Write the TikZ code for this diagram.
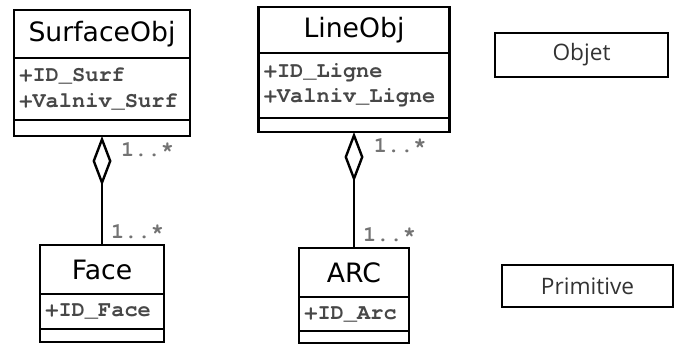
\documentclass[tikz,border=0pt]{standalone}
\usepackage{fontspec}
\setmainfont{DejaVu Sans}
\setmonofont{TeX Gyre Cursor}
\newfontfamily\legendfont{Open Sans}
\usetikzlibrary{arrows.meta}

\tikzset{
  box/.style={draw, line width=2.1pt, inner sep=0pt, outer sep=0pt, anchor=north},
  classtitle/.style={box, font=\fontsize{20}{24}\selectfont},
  attrs/.style={box, text width=#1, inner xsep=4pt, align=left,
    text=black!72, font=\fontsize{16.5}{19}\ttfamily\bfseries},
  agg/.style={line width=1.8pt, -{Diamond[open, length=37.5pt, width=14.25pt]}},
  mult/.style={inner sep=0pt, text=black!55, font=\fontsize{16.5}{19}\ttfamily\bfseries},
  legend/.style={draw, line width=2.1pt, text=black!80, font=\legendfont\fontsize{17}{20}\selectfont}
}

\begin{document}
\begin{tikzpicture}[x=0.75pt, y=-0.75pt]
    \useasboundingbox (0,0) rectangle (680,346);
    % SurfaceObj
    \node[classtitle, minimum width=132pt, minimum height=36pt] (surf) at (102,10) {SurfaceObj};
    \node[attrs=124pt, minimum height=46.5pt] (surfattr) at (surf.south) {+ID\_Surf\\+Valniv\_Surf};
    \node[box, minimum width=132pt, minimum height=12pt] (surfops) at (surfattr.south) {};
    % LineObj
    \node[classtitle, minimum width=143.25pt, minimum height=34.5pt] (line) at (354,7) {LineObj};
    \node[attrs=135.25pt, minimum height=48.75pt] (lineattr) at (line.south) {+ID\_Ligne\\+Valniv\_Ligne};
    \node[box, minimum width=143.25pt, minimum height=10.5pt] (lineops) at (lineattr.south) {};
    % Face
    \node[classtitle, minimum width=93pt, minimum height=36.75pt] (face) at (102,245) {Face};
    \node[attrs=85pt, minimum height=26.25pt] (faceattr) at (face.south) {+ID\_Face};
    \node[box, minimum width=93pt, minimum height=9.75pt] (faceops) at (faceattr.south) {};
    % ARC
    \node[classtitle, minimum width=82.5pt, minimum height=36.75pt] (arc) at (354,248) {ARC};
    \node[attrs=74.5pt, minimum height=25.5pt] (arcattr) at (arc.south) {+ID\_Arc};
    \node[box, minimum width=82.5pt, minimum height=9pt] (arcops) at (arcattr.south) {};
    % aggregations
    \draw[agg] (face.north) --
        node[mult, pos=0, anchor=south west, xshift=6pt, yshift=3.75pt] (facemult) {1..*}
        node[mult, pos=1, anchor=north west, xshift=13.5pt, yshift=-4pt] (surfmult) {1..*}
        (surfops.south);
    \draw[agg] (arc.north) --
        node[mult, pos=0, anchor=south west, xshift=6pt, yshift=3.75pt] (arcmult) {1..*}
        node[mult, pos=1, anchor=north west, xshift=14pt, yshift=-4pt] (linemult) {1..*}
        (lineops.south);
    % legend
    \node[legend, minimum width=129.75pt, minimum height=33pt] (objet) at (581.5,55) {Objet};
    \node[legend, minimum width=128.25pt, minimum height=31.5pt] (prim) at (587.5,286) {Primitive};
\end{tikzpicture}
\end{document}
